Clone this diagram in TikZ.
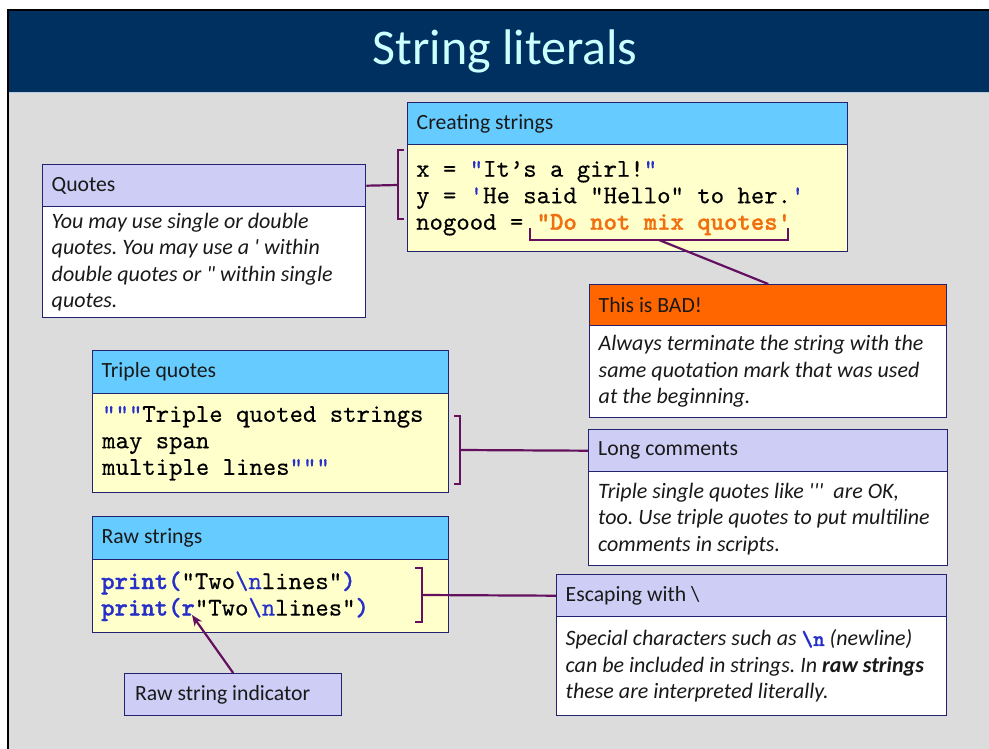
\documentclass[tikz,border=0pt]{standalone}
\usepackage{fontspec}
\setmainfont{Carlito}
\setmonofont{lmmono10-regular.otf}[FakeBold=0.35,
  BoldFont=lmmonolt10-bold.otf, BoldFeatures={FakeBold=1.2}]
\usetikzlibrary{arrows.meta,calc}
\frenchspacing

\definecolor{navy}{HTML}{00305F}
\definecolor{titlecyan}{HTML}{CCFFFF}
\definecolor{pagegrey}{HTML}{DCDCDC}
\definecolor{hdrblue}{HTML}{66CCFF}
\definecolor{hdrlav}{HTML}{CDCDF5}
\definecolor{hdrorange}{HTML}{FF6600}
\definecolor{codebg}{HTML}{FFFFCC}
\definecolor{boxline}{HTML}{22226E}
\definecolor{connpurple}{HTML}{64105F}
\definecolor{codeblue}{HTML}{2630C8}
\definecolor{badorange}{HTML}{F07010}
\definecolor{rulelight}{HTML}{B8CCE0}

% coloured pieces of code
\newcommand\qb[1]{\textcolor{codeblue}{#1}}
\newcommand\pb[1]{\textcolor{codeblue}{\bfseries #1}}

% a panel: header strip plus body
% #1 name, #2 left, #3 top, #4 right, #5 header bottom, #6 bottom, #7 header fill, #8 body fill
\newcommand\mkpanel[8]{%
  \node[box, fill=#7, minimum width={#4-#2}, minimum height={#5-#3}] (#1-h) at (#2,#3) {};
  \node[box, fill=#8, minimum width={#4-#2}, minimum height={#6-#5}] (#1-b) at (#2,#5) {};
}

\begin{document}
\begin{tikzpicture}[x=1pt,y=-1pt,
  box/.style={draw=boxline, line width=1.4pt, inner sep=0pt, anchor=north west},
  lbl/.style={anchor=west, inner sep=0pt, align=left, text=black!90,
              font=\fontsize{21.7}{26.5}\selectfont},
  note/.style={lbl, font=\fontsize{22}{26.5}\selectfont\itshape},
  code/.style={anchor=west, inner sep=0pt, align=left, text=black,
               font=\ttfamily\fontsize{25.5}{26.5}\selectfont},
  conn/.style={draw=connpurple, line width=2.2pt},
]
\useasboundingbox (0,0) rectangle (989,749);

% page, frame and title bar
\fill[white] (0,0) rectangle (989,749);
\fill[pagegrey] (8,10) rectangle (989,749);
\fill[navy] (9,11) rectangle (989,92);
\draw[rulelight, line width=1pt] (9,92.5) -- (989,92.5);
\draw[black, line width=2pt] (8,749) -- (8,10) -- (989,10);
\node[anchor=base, inner sep=0pt, text=titlecyan, font=\fontsize{50}{60}\selectfont]
  (title) at (505,65) {String literals};

% panels
\mkpanel{cs}{407}{102}{847}{144}{251}{hdrblue}{codebg}
\mkpanel{qu}{42}{164}{365}{206}{317}{hdrlav}{white}
\mkpanel{bad}{589}{284}{946}{325}{417}{hdrorange}{white}
\mkpanel{tq}{92}{350}{448}{393}{492}{hdrblue}{codebg}
\mkpanel{lc}{588}{429}{947}{471}{565}{hdrlav}{white}
\mkpanel{rs}{92}{516}{448}{559}{632}{hdrblue}{codebg}
\mkpanel{es}{556}{574}{946}{616}{715}{hdrlav}{white}
\node[box, fill=hdrlav, minimum width=217, minimum height=42] (ri) at (124,673) {};

% headers
\node[lbl] (cs-ht)  at ([xshift=9.5pt]cs-h.west)  {Creating strings};
\node[lbl] (qu-ht)  at ([xshift=9.5pt]qu-h.west)  {Quotes};
\node[lbl] (bad-ht) at ([xshift=9.5pt]bad-h.west) {This is BAD!};
\node[lbl] (tq-ht)  at ([xshift=9.5pt]tq-h.west)  {Triple quotes};
\node[lbl] (lc-ht)  at ([xshift=10pt]lc-h.west)   {Long comments};
\node[lbl] (rs-ht)  at ([xshift=9.5pt]rs-h.west)  {Raw strings};
\node[lbl] (es-ht)  at ([xshift=9.5pt]es-h.west)  {Escaping with \textbackslash};
\node[lbl] (ri-t)   at ([xshift=11pt]ri.west)     {Raw string indicator};

% code bodies
\node[code] (cs-code) at ([xshift=9pt]cs-b.west)
  {x = \qb{"}It’s a girl!\qb{"}\\
   y = \qb{\textquotesingle}He said "Hello" to her.\qb{\textquotesingle}\\
   nogood = \textcolor{badorange}{\bfseries "Do not mix quotes\textquotesingle}};
\node[code] (tq-code) at ([xshift=10pt]tq-b.west)
  {\qb{"""}Triple quoted strings\\
   may span\\
   multiple lines\qb{"""}};
\node[code] (rs-code) at ([xshift=9pt]rs-b.west)
  {\pb{print(}"Two\qb{\textbackslash n}lines"\pb{)}\\
   \pb{print(r}"Two\qb{\textbackslash n}lines"\pb{)}};

% note bodies
\node[note] (qu-bt) at ([xshift=9.5pt]qu-b.west)
  {You may use single or double\\
   quotes. You may use a \textquotesingle{} within\\
   double quotes or \textquotedbl{} within single\\
   quotes.};
\node[note] (bad-bt) at ([xshift=9.5pt]bad-b.west)
  {Always terminate the string with the\\
   same quotation mark that was used\\
   at the beginning.};
\node[note] (lc-bt) at ([xshift=10pt]lc-b.west)
  {Triple single quotes like \textquotesingle\textquotesingle\textquotesingle\ \ are OK,\\
   too. Use triple quotes to put multiline\\
   comments in scripts.};
\node[note] (es-bt) at ([xshift=9.5pt]es-b.west)
  {Special characters such as \textcolor{codeblue}{\upshape\ttfamily\bfseries\textbackslash n} (newline)\\
   can be included in strings. In \textbf{raw strings}\\
   these are interpreted literally.};

% brackets and connectors
\coordinate (qbr) at (398,185);
\draw[conn] (qu-h.east) -- (qbr);
\draw[conn] (qbr) ++(6,-35) -- ++(-6,0) -- ++(0,69) -- ++(6,0);

\coordinate (ubr) at (659,240);
\draw[conn] (ubr) ++(-129,-12) -- ++(0,12) -- ++(258,0) -- ++(0,-12);
\draw[conn] (ubr) -- (bad-h.north);

\coordinate (tbr) at (460,450);
\draw[conn] (tbr) ++(-6,-34) -- ++(6,0) -- ++(0,68) -- ++(-6,0);
\draw[conn] (tbr) -- (lc-h.west);

\coordinate (rbr) at (422,595);
\draw[conn] (rbr) ++(-7,-27) -- ++(7,0) -- ++(0,54) -- ++(-7,0);
\draw[conn] (rbr) -- (es-h.west);

\coordinate (rtip) at (192,615);
\draw[conn, -{Stealth[length=11pt,width=9pt]}] (ri.north) -- (rtip);
\end{tikzpicture}
\end{document}
